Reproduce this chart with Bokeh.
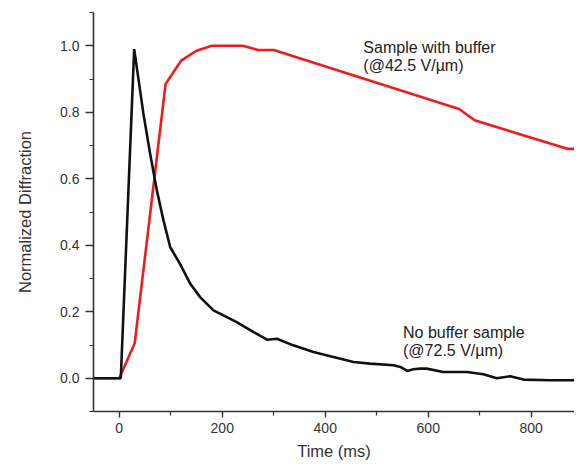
from bokeh.plotting import figure
from bokeh.models import Range1d, FixedTicker, Label
from bokeh.embed import file_html
from bokeh.resources import INLINE

# Sample with buffer (@42.5 V/um) - red
buf_t = [-50, 0, 30, 90, 120, 150, 180, 210, 240, 270, 300, 660, 690, 870, 900]
buf_y = [0.0, 0.0, 0.105, 0.885, 0.955, 0.985, 1.0, 1.0, 1.0, 0.987, 0.987, 0.81, 0.776, 0.69, 0.69]

# No buffer sample (@72.5 V/um) - black
nob_t = [-50, 0, 3, 29, 47, 60, 73, 86, 99, 118, 138, 157, 183, 209, 228, 261, 287, 306,
         338, 377, 410, 455, 487, 533, 546, 559, 571, 584, 597, 629, 675, 707, 733, 759,
         785, 837, 898]
nob_y = [0.0, 0.0, 0.0, 0.99, 0.795, 0.675, 0.565, 0.474, 0.394, 0.344, 0.284, 0.244,
         0.204, 0.184, 0.169, 0.139, 0.116, 0.119, 0.099, 0.079, 0.066, 0.049, 0.044,
         0.039, 0.034, 0.022, 0.027, 0.029, 0.029, 0.019, 0.019, 0.012, 0.0, 0.006,
         -0.004, -0.006, -0.006]

x_major = [0, 200, 400, 600, 800]
x_minor = [100, 300, 500, 700]
y_major = [0.0, 0.2, 0.4, 0.6, 0.8, 1.0]
y_minor = [-0.1, 0.1, 0.3, 0.5, 0.7, 0.9, 1.1]
y_labels = ["0.0", "0.2", "0.4", "0.6", "0.8", "1.0"]

p = figure(width=574, height=463, output_backend="svg", toolbar_location=None,
           x_range=Range1d(-50, 884), y_range=Range1d(-0.1, 1.1),
           min_border_left=93, min_border_right=0, min_border_top=12, min_border_bottom=52)
p.outline_line_color = None
p.xgrid.visible = False
p.ygrid.visible = False

p.line(buf_t, buf_y, line_color="#ee1c1c", line_width=2.6)
p.line(nob_t, nob_y, line_color="#111111", line_width=2.6)

p.xaxis.ticker = FixedTicker(ticks=x_major, minor_ticks=x_minor)
p.yaxis.ticker = FixedTicker(ticks=y_major, minor_ticks=y_minor)
p.yaxis.major_label_overrides = {v: s for v, s in zip(y_major, y_labels)}

for ax in (p.xaxis[0], p.yaxis[0]):
    ax.axis_line_color = "#333333"
    ax.axis_line_width = 1.6
    ax.major_tick_line_color = "#333333"
    ax.minor_tick_line_color = "#333333"
    ax.major_tick_line_width = 1.4
    ax.minor_tick_line_width = 1.2
    ax.major_tick_in = 0
    ax.minor_tick_in = 0
    ax.major_label_text_font = "Liberation Sans"
    ax.major_label_text_font_size = "14px"
    ax.major_label_text_color = "#333333"
    ax.axis_label_text_font = "Liberation Sans"
    ax.axis_label_text_font_size = "16.5px"
    ax.axis_label_text_font_style = "normal"
    ax.axis_label_text_color = "#333333"

p.xaxis.major_tick_out = 6
p.xaxis.minor_tick_out = 4
p.yaxis.major_tick_out = 8
p.yaxis.minor_tick_out = 4
p.xaxis.major_label_standoff = 5
p.yaxis.major_label_standoff = 6
p.xaxis.axis_label = "Time (ms)"
p.yaxis.axis_label = "Normalized Diffraction"
p.xaxis.axis_label_standoff = 6
p.yaxis.axis_label_standoff = 23

lab_style = dict(text_font="Liberation Sans", text_font_size="16px", text_color="#222222",
                 text_align="left", text_baseline="alphabetic")
p.add_layout(Label(x=474, y=0.995, text="Sample with buffer", **lab_style))
p.add_layout(Label(x=474, y=0.94, text="(@42.5 V/µm)", **lab_style))
p.add_layout(Label(x=551, y=0.139, text="No buffer sample", **lab_style))
p.add_layout(Label(x=551, y=0.084, text="(@72.5 V/µm)", **lab_style))

open("out.html", "w").write(file_html(p, INLINE))
